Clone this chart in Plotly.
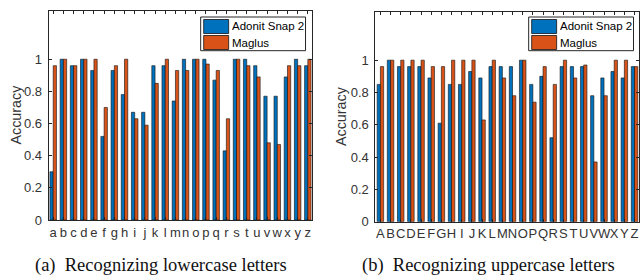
import plotly.graph_objects as go

lower = list("abcdefghijklmnopqrstuvwxyz")
upper = list("ABCDEFGHIJKLMNOPQRSTUVWXYZ")

lower_adonit = [0.30, 1.00, 0.96, 1.00, 0.93, 0.52, 0.93, 0.78, 0.67, 0.67, 0.96, 0.96, 0.74,
                1.00, 1.00, 1.00, 0.87, 0.43, 1.00, 1.00, 0.96, 0.77, 0.77, 0.89, 1.00, 0.96]
lower_maglus = [0.96, 1.00, 0.96, 1.00, 1.00, 0.70, 0.96, 1.00, 0.63, 0.59, 0.85, 1.00, 0.93,
                0.93, 1.00, 0.97, 0.93, 0.63, 1.00, 0.96, 0.89, 0.48, 0.47, 0.96, 0.96, 1.00]
upper_adonit = [0.85, 1.00, 0.96, 0.96, 0.96, 0.89, 0.61, 0.85, 0.85, 0.93, 0.89, 0.96, 0.96,
                0.96, 1.00, 0.85, 0.90, 0.52, 0.96, 0.96, 0.96, 0.78, 0.89, 0.93, 0.89, 0.96]
upper_maglus = [0.96, 1.00, 1.00, 1.00, 1.00, 0.96, 0.96, 1.00, 1.00, 1.00, 0.63, 1.00, 0.89,
                0.78, 1.00, 0.74, 0.96, 0.85, 1.00, 0.89, 0.97, 0.37, 0.78, 1.00, 1.00, 0.96]

series_names = ["Adonit Snap 2", "Maglus"]
y_ticks = [0, 0.2, 0.4, 0.6, 0.8, 1]
y_ticktext = ["0", "0.2", "0.4", "0.6", "0.8", "1"]
captions = ["(a)  Recognizing lowercase letters", "(b)  Recognizing uppercase letters"]

BLUE = "#0072BD"
ORANGE = "#D95319"
AX = "#262626"
W, H = 640, 284   # captured page is squeezed vertically to 276 px
REF_H = 276


def px(x):
    return x / W


def py(y):
    return 1 - y / REF_H


fig = go.Figure()
panels = [
    (lower, lower_adonit, lower_maglus, "x", "y"),
    (upper, upper_adonit, upper_maglus, "x2", "y2"),
]
for cats, a, m, xa, ya in panels:
    fig.add_trace(go.Bar(x=cats, y=a, name=series_names[0], marker=dict(color=BLUE, line=dict(color="#111", width=0.6)),
                         xaxis=xa, yaxis=ya, showlegend=False))
    fig.add_trace(go.Bar(x=cats, y=m, name=series_names[1], marker=dict(color=ORANGE, line=dict(color="#111", width=0.6)),
                         xaxis=xa, yaxis=ya, showlegend=False))

axis_common = dict(showline=True, linecolor=AX, linewidth=1, mirror="ticks", ticks="inside",
                   ticklen=3, tickcolor=AX, showgrid=False, zeroline=False,
                   tickfont=dict(family="Liberation Sans, Arial", size=13, color="#333"))

fig.update_layout(
    width=W, height=H, margin=dict(l=0, r=0, t=0, b=0),
    paper_bgcolor="white", plot_bgcolor="white",
    barmode="group", bargap=0.36, bargroupgap=0,
    xaxis=dict(domain=[px(48.7), px(312.3)], range=[-0.45, 25.39], tickmode="array",
               tickvals=lower, ticktext=lower, tickangle=0, anchor="y", **axis_common),
    yaxis=dict(domain=[py(220), py(11)], range=[0, 1.3], tickvals=y_ticks, ticktext=y_ticktext,
               anchor="x", ticklabelstandoff=3, **axis_common),
    xaxis2=dict(domain=[px(376), 1.0], range=[-0.49, 25.44], tickmode="array",
                tickvals=upper, ticktext=upper, tickangle=0, anchor="y2", **axis_common),
    yaxis2=dict(domain=[py(221.7), py(11.7)], range=[0, 1.3], tickvals=y_ticks, ticktext=y_ticktext,
                anchor="x2", ticklabelstandoff=3, **axis_common),
)

# y-axis titles
for xc, yc in [(16.5, 114), (341.5, 116)]:
    fig.add_annotation(x=px(xc), y=py(yc), xref="paper", yref="paper", text="Accuracy",
                       textangle=-90, showarrow=False, xanchor="center", yanchor="middle",
                       font=dict(family="Liberation Sans, Arial", size=14.3, color="#333"))

# captions
for xc, cap in [(161, captions[0]), (489, captions[1])]:
    fig.add_annotation(x=px(xc), y=py(265), xref="paper", yref="paper", text=cap, showarrow=False,
                       xanchor="center", yanchor="middle",
                       font=dict(family="Liberation Serif, Times New Roman", size=18.5, color="#111"))

# legends (drawn boxes)
for x0 in [201, 529.5]:
    fig.add_shape(type="rect", xref="paper", yref="paper", x0=px(x0), x1=px(x0 + 105),
                  y0=py(50.7), y1=py(17), line=dict(color=AX, width=1), fillcolor="white")
    for i, (name, col) in enumerate(zip(series_names, [BLUE, ORANGE])):
        top = 19.5 + i * 16
        fig.add_shape(type="rect", xref="paper", yref="paper", x0=px(x0 + 3), x1=px(x0 + 28),
                      y0=py(top + 14), y1=py(top), line=dict(color="#111", width=0.8), fillcolor=col)
        fig.add_annotation(x=px(x0 + 29.5), y=py(top + 7), xref="paper", yref="paper", text=name,
                           showarrow=False, xanchor="left", yanchor="middle",
                           font=dict(family="Liberation Sans, Arial", size=11.5, color="#000"))

fig.write_html(
    "out.html",
    config={"displayModeBar": False},
    post_script="document.body.style.margin='0';document.body.style.overflow='hidden';"
                "document.documentElement.style.overflow='hidden';",
)
